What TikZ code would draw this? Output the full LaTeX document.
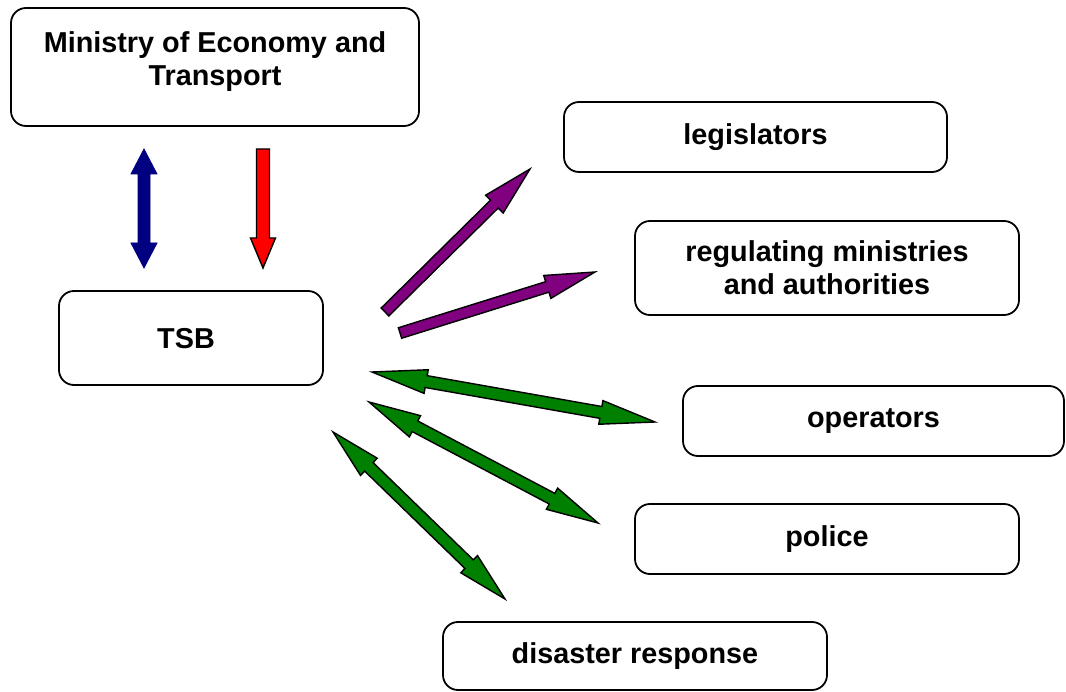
\documentclass[tikz,border=0pt]{standalone}
\usepackage{fontspec}
\setmainfont{Liberation Sans}
\usetikzlibrary{calc}

\definecolor{arrownavy}{RGB}{0,0,128}
\definecolor{arrowpurple}{RGB}{128,0,128}
\definecolor{arrowgreen}{RGB}{0,128,0}

\tikzset{
	box/.style={draw, line width=1.8pt, rounded corners=15pt, fill=white,
		font=\fontsize{28.8}{33}\selectfont\bfseries, align=center},
	outlined/.style={draw=black, line width=1.4pt, line join=miter}
}

% fat arrow from #2 to #3, head length #4, half head width #5, half shaft width #6
\newcommand{\blockarrow}[6]{
	\coordinate (hb) at ($(#3)!#4!(#2)$);
	\draw[#1] ($(#2)!#6!90:(#3)$) -- ($(hb)!#6!90:(#3)$) -- ($(hb)!#5!90:(#3)$) -- (#3)
		-- ($(hb)!#5!-90:(#3)$) -- ($(hb)!#6!-90:(#3)$) -- ($(#2)!#6!-90:(#3)$) -- cycle;
}
% same, with a head at both ends
\newcommand{\blockdarrow}[6]{
	\coordinate (ha) at ($(#2)!#4!(#3)$);
	\coordinate (hb) at ($(#3)!#4!(#2)$);
	\draw[#1] (#2) -- ($(ha)!#5!90:(#3)$) -- ($(ha)!#6!90:(#3)$) -- ($(hb)!#6!90:(#3)$)
		-- ($(hb)!#5!90:(#3)$) -- (#3) -- ($(hb)!#5!-90:(#3)$) -- ($(hb)!#6!-90:(#3)$)
		-- ($(ha)!#6!-90:(#3)$) -- ($(ha)!#5!-90:(#3)$) -- cycle;
}

\begin{document}
\begin{tikzpicture}[x=1pt, y=-1pt]
\useasboundingbox (0,0) rectangle (1066,692);

% the boxes
\node[box, minimum width=408pt, minimum height=118pt] (met) at (215,67) {};
\node[box, draw=none, fill=none] (met-text) at (215,62) {Ministry of Economy and\\Transport};
\node[box, minimum width=264pt, minimum height=94pt] (tsb) at (191,338) {};
\node[box, draw=none, fill=none] (tsb-text) at (186,339) {TSB};
\node[box, minimum width=383pt, minimum height=70pt] (leg) at (755.5,137) {legislators};
\node[box, minimum width=384pt, minimum height=94pt] (reg) at (827,268) {regulating ministries\\and authorities};
\node[box, minimum width=381pt, minimum height=70pt] (ops) at (873.5,421) {operators};
\node[box, minimum width=384pt, minimum height=70pt] (pol) at (827,539) {police};
\node[box, minimum width=384pt, minimum height=68pt] (dis) at (635,656) {disaster response};

% arrow ends
\coordinate (met-a) at (144,149);  \coordinate (tsb-a) at (144,268);
\coordinate (met-b) at (263,149);  \coordinate (tsb-b) at (263,268);
\coordinate (leg-from) at (385,312); \coordinate (leg-to) at (530,169);
\coordinate (reg-from) at (400,333); \coordinate (reg-to) at (595,272);
\coordinate (ops-from) at (372,372); \coordinate (ops-to) at (655,422);
\coordinate (pol-from) at (369,402); \coordinate (pol-to) at (598,523);
\coordinate (dis-from) at (333,432); \coordinate (dis-to) at (505,599);

% ministry <-> tsb
\blockdarrow{fill=arrownavy, draw=arrownavy, line width=0.8pt}{met-a}{tsb-a}{25pt}{13pt}{6pt}
\blockarrow{outlined, fill=red}{met-b}{tsb-b}{30pt}{12.5pt}{6.5pt}

% tsb -> outside
\blockarrow{outlined, fill=arrowpurple}{leg-from}{leg-to}{50pt}{12.5pt}{5.5pt}
\blockarrow{outlined, fill=arrowpurple}{reg-from}{reg-to}{50pt}{12pt}{5.5pt}

% tsb <-> outside
\foreach \n/\h in {ops/55pt,pol/52pt,dis/50pt}{
	\blockdarrow{outlined, fill=arrowgreen}{\n-from}{\n-to}{\h}{12pt}{6pt}
}

\end{tikzpicture}
\end{document}
